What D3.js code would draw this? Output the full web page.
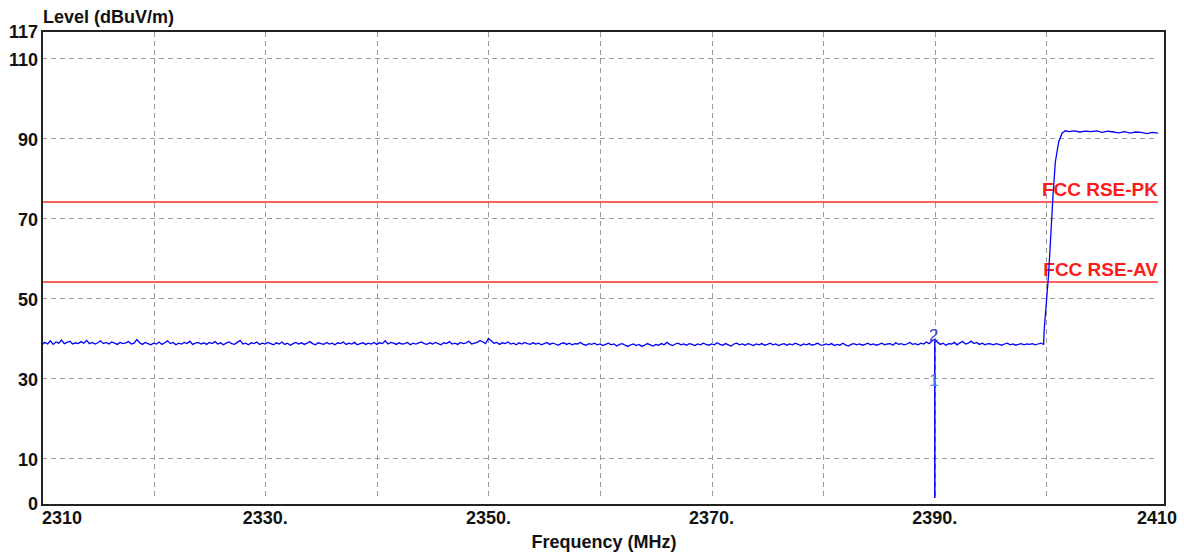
<!DOCTYPE html>
<html lang="en">
<head>
<meta charset="utf-8">
<script src="https://cdn.jsdelivr.net/npm/d3@7"></script>
<style>
  body { margin: 0; background: #fff; }
  svg text { font-family: "Liberation Sans", Arial, sans-serif; font-weight: bold; }
</style>
</head>
<body>
<script>
// axis ticks
var xTicks = [2310, 2330, 2350, 2370, 2390, 2410];
var xTickLabels = ["2310", "2330.", "2350.", "2370.", "2390.", "2410"];
var xGrid = [2320, 2330, 2340, 2350, 2360, 2370, 2380, 2390, 2400];
var yTicks = [0, 10, 30, 50, 70, 90, 110, 117];
var yGrid = [10, 30, 50, 70, 90, 110];

// limit lines
var limitNames = ["FCC RSE-PK", "FCC RSE-AV"];
var limitLevels = [74, 54];

// trace: noise floor sampled every 0.25 MHz from 2310 MHz
var floorStart = 2310, floorStep = 0.25;
var floorLevels = [
  38.3,38.9,38.5,39.3,38.4,39.0,38.7,39.5,38.6,38.9,39.2,38.5,38.8,38.6,39.1,38.7,39.4,38.6,38.9,38.5,
  38.8,39.3,38.6,38.9,38.5,39.0,38.7,38.4,38.9,38.6,38.8,39.1,38.5,38.7,39.6,38.8,38.4,38.9,38.6,38.3,
  38.7,38.5,39.0,38.4,38.8,39.3,38.6,38.9,38.3,38.7,38.5,38.9,38.6,39.2,38.4,38.7,38.9,38.5,38.8,38.4,
  38.9,38.6,39.1,38.5,38.8,38.3,38.7,39.0,38.6,38.4,38.9,39.4,38.5,38.7,38.3,38.8,38.6,39.0,38.4,38.7,
  38.5,38.9,38.6,38.3,38.8,38.5,39.0,38.4,38.7,38.2,38.6,38.9,38.5,38.8,38.4,38.7,39.1,38.6,38.3,38.8,
  38.6,38.4,38.9,38.5,38.7,38.3,38.8,38.6,39.0,38.4,38.7,38.5,38.9,38.3,38.6,38.8,38.4,38.7,38.5,38.9,
  38.4,38.8,38.6,39.3,38.5,38.9,38.7,38.4,38.8,38.5,38.6,38.9,38.3,38.7,38.5,38.8,39.0,38.6,38.4,38.8,
  38.5,38.9,38.6,38.3,38.8,38.6,39.1,38.5,38.7,38.4,38.9,38.6,38.8,39.2,38.5,38.7,38.9,39.4,39.0,38.6,
  39.9,39.3,38.7,38.9,38.4,38.8,38.6,39.0,38.5,38.7,38.3,38.8,38.5,38.9,38.6,38.4,38.8,38.5,38.7,38.3,
  38.6,38.9,38.4,38.7,38.5,38.2,38.6,38.8,38.4,38.7,38.3,38.6,38.5,38.9,38.4,38.2,38.6,38.4,38.7,38.3,
  38.5,38.1,38.4,38.7,38.3,38.5,38.0,38.4,38.6,38.2,37.9,38.3,38.5,38.1,38.4,37.9,38.2,38.6,38.3,38.0,
  38.4,38.2,38.6,38.3,38.9,38.4,38.1,38.5,38.7,38.3,38.5,38.2,38.6,38.4,38.1,38.5,38.3,38.7,38.4,38.2,
  38.5,38.3,38.8,38.4,38.2,38.6,38.3,38.0,38.5,38.7,38.3,38.5,38.2,38.6,38.4,38.1,38.5,38.3,38.6,38.2,
  38.4,38.7,38.3,38.5,38.1,38.4,38.6,38.2,38.5,38.3,38.7,38.4,38.1,38.5,38.3,38.6,38.2,38.4,38.7,38.3,
  38.2,38.5,38.3,38.6,38.1,38.4,38.2,38.7,38.3,38.0,38.4,38.6,38.3,38.5,38.2,38.4,38.7,38.3,38.5,38.2,
  38.4,38.7,38.3,38.5,38.6,38.2,38.8,38.4,38.6,38.3,38.5,38.9,38.4,38.6,38.3,38.7,38.5,39.0,38.6,39.3,
  39.6,38.9,38.4,38.7,38.2,38.6,38.5,38.9,38.3,38.8,39.1,38.5,38.7,39.2,38.6,38.9,38.4,38.7,38.3,38.6,
  38.5,38.3,38.6,38.4,38.2,38.5,38.7,38.3,38.5,38.2,38.4,38.6,38.3,38.5,38.4,38.6,38.3,38.5,38.7,38.4
];
// band edge rise
var riseFreqs = [2399.8, 2400.0, 2400.2, 2400.4, 2400.6, 2400.8, 2401.1, 2401.4, 2401.7];
var riseLevels = [42, 49, 56, 66, 76, 84, 89, 91.2, 91.8];
// in-band plateau
var topFreqs = [2402.0, 2402.5, 2403.0, 2403.5, 2404.0, 2404.5, 2405.0, 2405.5, 2406.0, 2406.5,
                2407.0, 2407.5, 2408.0, 2408.5, 2409.0, 2409.5, 2410.0];
var topLevels = [91.6, 91.8, 91.5, 91.7, 91.6, 91.8, 91.4, 91.7, 91.5, 91.3,
                 91.6, 91.2, 91.5, 91.4, 91.1, 91.4, 91.2];

// markers
var markerFreq = 2390;
var markerLabels = ["2", "1"];
var markerLevels = [39.6, 0];

var W = 1184, H = 558;
var x = d3.scaleLinear().domain([2310, 2410]).range([42, 1158]);
var y = d3.scaleLinear().domain([0, 117]).range([498, 30]);

var svg = d3.select("body").append("svg").attr("width", W).attr("height", H);

// grid
svg.selectAll(".hgrid").data(yGrid).enter().append("line")
  .attr("x1", x(2310)).attr("x2", x(2410))
  .attr("y1", function(d) { return y(d) + 0.5; }).attr("y2", function(d) { return y(d) + 0.5; })
  .attr("stroke", "#9a9a9a").attr("stroke-dasharray", "5,4");
svg.selectAll(".vgrid").data(xGrid).enter().append("line")
  .attr("x1", function(d) { return Math.round(x(d)) + 0.5; })
  .attr("x2", function(d) { return Math.round(x(d)) + 0.5; })
  .attr("y1", 32).attr("y2", y(0))
  .attr("stroke", "#9a9a9a").attr("stroke-dasharray", "5,4");

// limit lines
svg.selectAll(".limit").data(limitLevels).enter().append("line")
  .attr("x1", x(2310)).attr("x2", x(2410))
  .attr("y1", function(d) { return y(d); }).attr("y2", function(d) { return y(d); })
  .attr("stroke", "#ff2a2a").attr("stroke-width", 1.6);
svg.selectAll(".limitLabel").data(limitNames).enter().append("text")
  .attr("x", x(2410))
  .attr("y", function(d, i) { return y(limitLevels[i]) - 6; })
  .attr("text-anchor", "end")
  .attr("fill", "#ff1a1a")
  .style("font-size", "19px")
  .text(function(d) { return d; });

// trace
var pts = floorLevels.map(function(v, i) { return [floorStart + i * floorStep, v]; });
riseFreqs.forEach(function(f, i) { pts.push([f, riseLevels[i]]); });
topFreqs.forEach(function(f, i) { pts.push([f, topLevels[i]]); });
var line = d3.line().x(function(d) { return x(d[0]); }).y(function(d) { return y(d[1]); });
svg.append("path").datum(pts).attr("d", line)
  .attr("fill", "none").attr("stroke", "#0000ff").attr("stroke-width", 1.3);

// marker
svg.append("line")
  .attr("x1", x(markerFreq)).attr("x2", x(markerFreq))
  .attr("y1", y(markerLevels[0])).attr("y2", y(markerLevels[1]))
  .attr("stroke", "#0000ff").attr("stroke-width", 1.5);
svg.append("text").attr("x", x(markerFreq) - 1).attr("y", y(markerLevels[0]) + 1)
  .attr("text-anchor", "middle").attr("fill", "#4040d8")
  .style("font-size", "17px").style("font-weight", "normal").text(markerLabels[0]);
svg.append("text").attr("x", x(markerFreq) - 1).attr("y", y(30) + 8)
  .attr("text-anchor", "middle").attr("fill", "#4a8ff0")
  .style("font-size", "17px").style("font-weight", "normal").text(markerLabels[1]);

// frame
svg.append("rect").attr("x", 42).attr("y", 31).attr("width", 1165 - 42).attr("height", 505 - 31)
  .attr("fill", "none").attr("stroke", "#222").attr("stroke-width", 2);

// y labels
svg.selectAll(".ylab").data(yTicks).enter().append("text")
  .attr("x", 38)
  .attr("y", function(d) { return d === 0 ? y(d) + 12 : y(d) + 8; })
  .attr("text-anchor", "end").attr("fill", "#111")
  .style("font-size", "18px")
  .text(function(d) { return d; });

// x labels
svg.selectAll(".xlab").data(xTicks).enter().append("text")
  .attr("x", function(d, i) { return i === 0 ? x(d) : (i === xTicks.length - 1 ? x(d) + 19 : x(d)); })
  .attr("y", 524)
  .attr("text-anchor", function(d, i) { return i === 0 ? "start" : (i === xTicks.length - 1 ? "end" : "middle"); })
  .attr("fill", "#111")
  .style("font-size", "18px")
  .text(function(d, i) { return xTickLabels[i]; });

// axis titles
svg.append("text").attr("x", 43).attr("y", 23).attr("fill", "#111")
  .style("font-size", "18px").text("Level (dBuV/m)");
svg.append("text").attr("x", 604).attr("y", 548).attr("text-anchor", "middle").attr("fill", "#111")
  .style("font-size", "18px").text("Frequency (MHz)");
</script>
</body>
</html>
